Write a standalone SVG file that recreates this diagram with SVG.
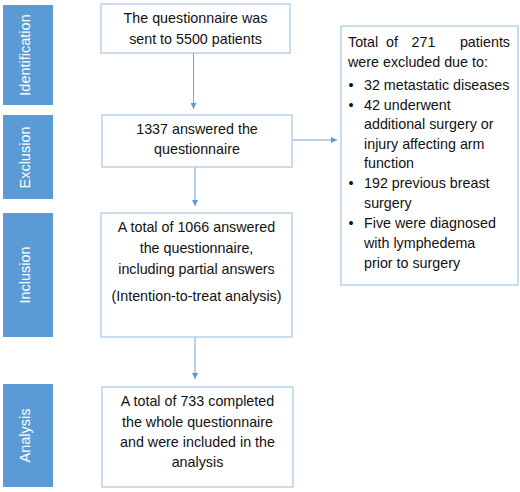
<svg xmlns="http://www.w3.org/2000/svg" width="520" height="492" viewBox="0 0 520 492">
<style>
.bar{fill:#5b9bd5}
.bt{fill:#fff;font-family:"Liberation Sans",Arial,sans-serif;font-size:14.5px;text-anchor:middle}
.box{fill:#fff;stroke:#a7c5e6;stroke-width:1.2}
.t{fill:#111;font-family:"Liberation Sans",Arial,sans-serif;font-size:14.3px}
.c{text-anchor:middle}
.e{text-anchor:end}
.con{stroke:#6fa3d9;stroke-width:1;fill:none}
</style>
<defs>
<marker id="ah" viewBox="0 0 6 6" refX="6" refY="3" markerWidth="6" markerHeight="6" markerUnits="userSpaceOnUse" orient="auto">
<path d="M0,0 L6,3 L0,6 z" fill="#5b9bd5"/>
</marker>
</defs>
<rect width="520" height="492" fill="#fff"/>
<g id="stage-identification">
<rect class="bar" x="3" y="5" width="50" height="100"/>
<text class="bt" transform="translate(29.5,55) rotate(-90)">Identification</text>
</g>
<g id="stage-exclusion">
<rect class="bar" x="3" y="115" width="50" height="84"/>
<text class="bt" transform="translate(29.5,157.5) rotate(-90)">Exclusion</text>
</g>
<g id="stage-inclusion">
<rect class="bar" x="3" y="213" width="50" height="124"/>
<text class="bt" transform="translate(29.5,275) rotate(-90)">Inclusion</text>
</g>
<g id="stage-analysis">
<rect class="bar" x="3" y="384" width="50" height="103"/>
<text class="bt" transform="translate(29.5,435.5) rotate(-90)">Analysis</text>
</g>
<g id="connectors">
<line class="con" x1="193.5" y1="53" x2="193.5" y2="109" marker-end="url(#ah)"/>
<line class="con" x1="195" y1="167" x2="195" y2="206" marker-end="url(#ah)"/>
<line class="con" x1="195" y1="337" x2="195" y2="379" marker-end="url(#ah)"/>
<line class="con" x1="292" y1="140" x2="337" y2="140" marker-end="url(#ah)"/>
</g>
<g id="node-sent">
<rect class="box" x="101" y="4" width="189" height="49"/>
<text class="t c" x="195.5" y="23">The questionnaire was</text>
<text class="t c" x="195.5" y="44">sent to 5500 patients</text>
</g>
<g id="node-answered">
<rect class="box" x="102" y="115" width="190" height="52"/>
<text class="t c" x="197" y="134">1337 answered the</text>
<text class="t c" x="197" y="154">questionnaire</text>
</g>
<g id="node-included">
<rect class="box" x="101" y="213" width="191" height="124"/>
<text class="t c" x="196.5" y="232">A total of 1066 answered</text>
<text class="t c" x="196.5" y="253">the questionnaire,</text>
<text class="t c" x="196.5" y="274">including partial answers</text>
<text class="t c" x="196.5" y="301">(Intention-to-treat analysis)</text>
</g>
<g id="node-analysis">
<rect class="box" x="102" y="387" width="191" height="100"/>
<text class="t c" x="197.5" y="406">A total of 733 completed</text>
<text class="t c" x="197.5" y="427">the whole questionnaire</text>
<text class="t c" x="197.5" y="447">and were included in the</text>
<text class="t c" x="197.5" y="467">analysis</text>
</g>
<g id="node-excluded">
<rect class="box" x="341" y="26" width="177" height="259"/>
<text class="t" x="348" y="47">Total</text>
<text class="t c" x="392" y="47">of</text>
<text class="t c" x="423.5" y="47">271</text>
<text class="t e" x="510" y="47">patients</text>
<text class="t" x="348" y="67">were excluded due to:</text>
<text class="t c" x="351" y="90">•</text>
<text class="t" x="364" y="90">32 metastatic diseases</text>
<text class="t c" x="351" y="110">•</text>
<text class="t" x="364" y="110">42 underwent</text>
<text class="t" x="364" y="129">additional surgery or</text>
<text class="t" x="364" y="149">injury affecting arm</text>
<text class="t" x="364" y="168">function</text>
<text class="t c" x="351" y="188">•</text>
<text class="t" x="364" y="188">192 previous breast</text>
<text class="t" x="364" y="208">surgery</text>
<text class="t c" x="351" y="228">•</text>
<text class="t" x="364" y="228">Five were diagnosed</text>
<text class="t" x="364" y="248">with lymphedema</text>
<text class="t" x="364" y="268">prior to surgery</text>
</g>
</svg>
